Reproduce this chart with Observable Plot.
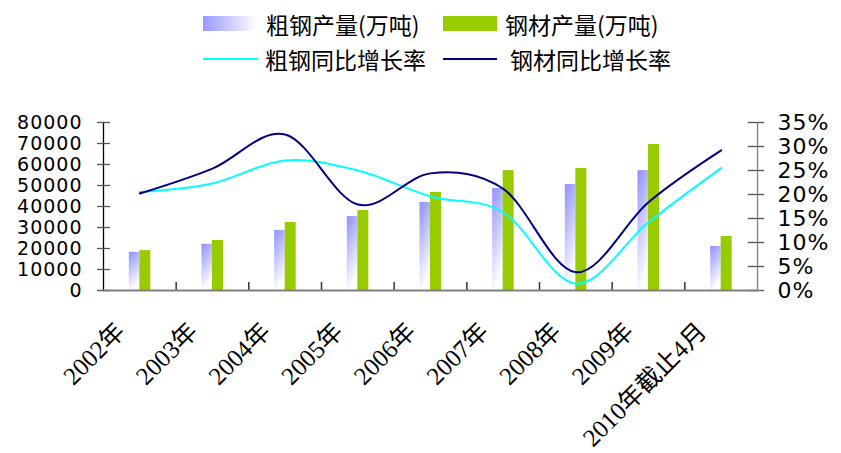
<!DOCTYPE html>
<html><head><meta charset="utf-8">
<script src="https://cdn.jsdelivr.net/npm/d3@7"></script>
<script src="https://cdn.jsdelivr.net/npm/@observablehq/plot@0.6"></script>
<style>
body{margin:0;background:#fff;font-family:"Noto Sans CJK SC",sans-serif;}
#legend{height:80px;position:relative;width:841px;}
.item{position:absolute;display:flex;align-items:center;font-size:23px;color:#000;height:35px;white-space:nowrap;}
.sw{width:54px;height:15px;margin-right:9px;}
.ln{height:2px;}
#chart svg{display:block;}
</style></head><body>
<div id="legend">
  <div class="item" style="left:203px;top:6px"><div class="sw" style="background:linear-gradient(to right,#9999ff,#ffffff)"></div><span>粗钢产量(万吨)</span></div>
  <div class="item" style="left:443px;top:6px"><div class="sw" style="background:#99cc00;margin-right:8px"></div><span>钢材产量(万吨)</span></div>
  <div class="item" style="left:203px;top:41px"><div class="ln" style="width:55px;background:#00ffff;margin-right:7px"></div><span>粗钢同比增长率</span></div>
  <div class="item" style="left:443px;top:41px"><div class="ln" style="width:54px;background:#000080;margin-right:13px"></div><span>钢材同比增长率</span></div>
</div>
<div id="chart"></div>
<script>
const years = ["2002年","2003年","2004年","2005年","2006年","2007年","2008年","2009年","2010年截止4月"];
const crudeSteel = [18200, 22000, 28600, 35200, 41900, 48600, 50500, 57100, 21000];
const steelProducts = [19000, 23800, 32400, 38100, 46700, 57100, 58100, 69500, 25700];
const crudeGrowth = [20.5, 22.3, 27.1, 25.0, 19.6, 16.3, 1.4, 14.2, 25.5];
const productsGrowth = [20.2, 25.4, 32.5, 17.9, 24.4, 21.2, 3.8, 18.4, 29.2];
const leftTicks = [0, 10000, 20000, 30000, 40000, 50000, 60000, 70000, 80000];
const rightTicks = [0, 5, 10, 15, 20, 25, 30, 35];

const leftMax = 80000, rightMax = 35;
const k = leftMax / rightMax;

const data = years.map((y, i) => ({
  year: y, crude: crudeSteel[i], products: steelProducts[i],
  crudeG: crudeGrowth[i], productsG: productsGrowth[i]
}));

const W = 841, H = 373, mL = 103, mR = 84, mT = 42, mB = 163;
const innerW = W - mL - mR, innerH = H - mT - mB;
const bw = innerW / years.length;
const half = bw / 2;
const barW = 10.5;

const chart = Plot.plot({
  width: W, height: H,
  marginLeft: mL, marginRight: mR, marginTop: mT, marginBottom: mB,
  style: {background: "#fff", fontFamily: "'DejaVu Sans', sans-serif", fontSize: "20px", color: "#000"},
  x: {type: "band", domain: years, padding: 0, round: false, label: null},
  y: {domain: [0, leftMax], label: null},
  marks: [
    Plot.barY(data, {x: "year", y: "crude", fill: "url(#crudeGrad)", insetLeft: half - barW, insetRight: half}),
    Plot.barY(data, {x: "year", y: "products", fill: "#99cc00", insetLeft: half, insetRight: half - barW - 0.5}),
    Plot.line(data, {x: "year", y: d => d.crudeG * k, stroke: "#00ffff", strokeWidth: 2, curve: "cardinal"}),
    Plot.line(data, {x: "year", y: d => d.productsG * k, stroke: "#000080", strokeWidth: 2, curve: "cardinal"}),
    Plot.frame({anchor: "left", stroke: "#000", strokeWidth: 1.3}),
    Plot.frame({anchor: "right", stroke: "#808080", strokeWidth: 1.3}),
    Plot.tickY(leftTicks, {y: d => d, insetRight: innerW - 7, stroke: "#555", strokeWidth: 1.3}),
    Plot.tickY(rightTicks, {y: d => d * k, insetLeft: innerW - 9, stroke: "#555", strokeWidth: 1.3}),
    Plot.axisY({anchor: "left", ticks: leftTicks, tickSize: 6, tickPadding: 15, stroke: "#555", strokeWidth: 1.3, fontSize: 19, fontFamily: "'DejaVu Sans', sans-serif", tickFormat: d => String(d), label: null}),
    Plot.axisY({anchor: "right", ticks: rightTicks.map(v => v * k), tickSize: 6, tickPadding: 14, stroke: "#555", strokeWidth: 1.3, fontSize: 22, fontFamily: "'DejaVu Sans', sans-serif", tickFormat: d => Math.round(d / k) + "%", label: null}),
    Plot.tickX(years.slice(1), {x: d => d, dx: -half, insetTop: innerH - 8, stroke: "#333", strokeWidth: 1.5}),
    Plot.frame({anchor: "bottom", stroke: "#808080", strokeWidth: 2}),
    Plot.axisX({anchor: "bottom", tickSize: 0, tickPadding: 37, tickRotate: -45, dx: -19, fontSize: 25, fontFamily: "'Liberation Serif', 'Noto Sans CJK SC', serif", label: null})
  ]
});

const svg = d3.select(chart);
svg.selectAll("g[aria-label='y-axis tick label'] text").style("letter-spacing", "1px");
const defs = svg.insert("defs", ":first-child");
const g = defs.append("linearGradient").attr("id", "crudeGrad")
  .attr("x1", 0).attr("y1", 0).attr("x2", 0.3).attr("y2", 1);
g.append("stop").attr("offset", 0.05).attr("stop-color", "#9595ff");
g.append("stop").attr("offset", 1).attr("stop-color", "#ffffff");

document.getElementById("chart").appendChild(chart);
</script>
</body></html>
